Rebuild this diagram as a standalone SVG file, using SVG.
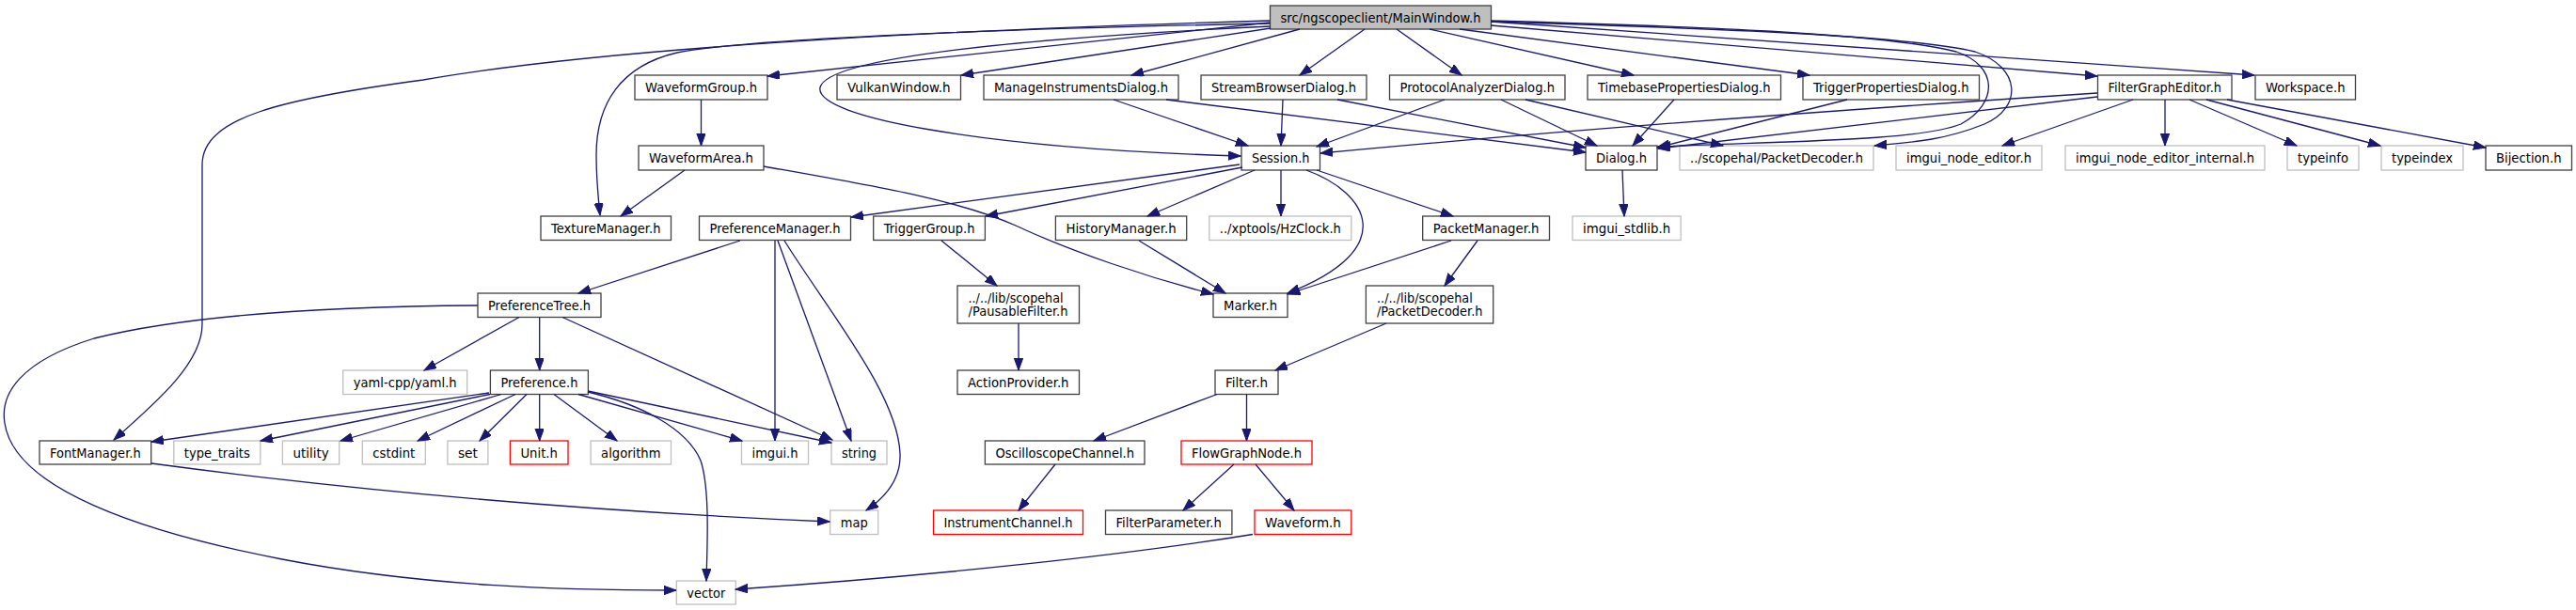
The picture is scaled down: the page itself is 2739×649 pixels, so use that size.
<svg xmlns="http://www.w3.org/2000/svg" width="2739" height="649" viewBox="0 0 2739 649">
<style>
.b{fill:#fff;stroke:#404040;stroke-width:1.3}
.g{fill:#fff;stroke:#bfbfbf;stroke-width:1.3}
.r{fill:#fff;stroke:#ff0000;stroke-width:1.3}
.m{fill:#bfbfbf;stroke:#404040;stroke-width:1.3}
text{font-family:"DejaVu Sans",sans-serif;font-size:13.33px;fill:#000;text-anchor:middle}
text.l{text-anchor:start}
#edges path{fill:none;stroke:#191970;stroke-width:1.3;marker-end:url(#a)}
</style>
<defs>
<marker id="a" markerUnits="userSpaceOnUse" markerWidth="14" markerHeight="10" refX="13" refY="4.7" orient="auto" viewBox="0 0 14 10"><path d="M0,0 L13,4.7 L0,9.4 z" fill="#191970" stroke="#191970" stroke-width="1"/></marker>
</defs>
<rect width="2739" height="649" fill="#fff"/>
<g id="nodes">
<g id="n0"><rect class="m" x="1350.5" y="6" width="235" height="25"/><text x="1468" y="23.5" textLength="213" lengthAdjust="spacingAndGlyphs">src/ngscopeclient/MainWindow.h</text></g>
<g id="n1"><rect class="b" x="675" y="80" width="141" height="26"/><text x="745.5" y="97.5" textLength="119" lengthAdjust="spacingAndGlyphs">WaveformGroup.h</text></g>
<g id="n2"><rect class="b" x="890" y="80" width="131.5" height="26"/><text x="955.75" y="97.5" textLength="109.5" lengthAdjust="spacingAndGlyphs">VulkanWindow.h</text></g>
<g id="n3"><rect class="b" x="1046" y="80" width="207" height="26"/><text x="1149.5" y="97.5" textLength="185" lengthAdjust="spacingAndGlyphs">ManageInstrumentsDialog.h</text></g>
<g id="n4"><rect class="b" x="1277" y="80" width="176" height="26"/><text x="1365" y="97.5" textLength="154" lengthAdjust="spacingAndGlyphs">StreamBrowserDialog.h</text></g>
<g id="n5"><rect class="b" x="1477.5" y="80" width="186.5" height="26"/><text x="1570.75" y="97.5" textLength="164.5" lengthAdjust="spacingAndGlyphs">ProtocolAnalyzerDialog.h</text></g>
<g id="n6"><rect class="b" x="1688" y="80" width="205.5" height="26"/><text x="1790.75" y="97.5" textLength="183.5" lengthAdjust="spacingAndGlyphs">TimebasePropertiesDialog.h</text></g>
<g id="n7"><rect class="b" x="1917" y="80" width="187.5" height="26"/><text x="2010.75" y="97.5" textLength="165.5" lengthAdjust="spacingAndGlyphs">TriggerPropertiesDialog.h</text></g>
<g id="n8"><rect class="b" x="2230.5" y="80" width="142.5" height="26"/><text x="2301.75" y="97.5" textLength="120.5" lengthAdjust="spacingAndGlyphs">FilterGraphEditor.h</text></g>
<g id="n9"><rect class="b" x="2398" y="80" width="106.5" height="26"/><text x="2451.25" y="97.5" textLength="84.5" lengthAdjust="spacingAndGlyphs">Workspace.h</text></g>
<g id="n10"><rect class="b" x="679" y="155" width="133" height="26"/><text x="745.5" y="172.5" textLength="111" lengthAdjust="spacingAndGlyphs">WaveformArea.h</text></g>
<g id="n11"><rect class="b" x="1320" y="155" width="83.5" height="26"/><text x="1361.75" y="172.5" textLength="61.5" lengthAdjust="spacingAndGlyphs">Session.h</text></g>
<g id="n12"><rect class="b" x="1686" y="155" width="76" height="26"/><text x="1724" y="172.5" textLength="54" lengthAdjust="spacingAndGlyphs">Dialog.h</text></g>
<g id="n13"><rect class="g" x="1786" y="155" width="206" height="26"/><text x="1889" y="172.5" textLength="184" lengthAdjust="spacingAndGlyphs">../scopehal/PacketDecoder.h</text></g>
<g id="n14"><rect class="g" x="2016" y="155" width="155" height="26"/><text x="2093.5" y="172.5" textLength="133" lengthAdjust="spacingAndGlyphs">imgui_node_editor.h</text></g>
<g id="n15"><rect class="g" x="2196" y="155" width="212" height="26"/><text x="2302" y="172.5" textLength="190" lengthAdjust="spacingAndGlyphs">imgui_node_editor_internal.h</text></g>
<g id="n16"><rect class="g" x="2432" y="155" width="76" height="26"/><text x="2470" y="172.5" textLength="54" lengthAdjust="spacingAndGlyphs">typeinfo</text></g>
<g id="n17"><rect class="g" x="2532" y="155" width="87" height="26"/><text x="2575.5" y="172.5" textLength="65" lengthAdjust="spacingAndGlyphs">typeindex</text></g>
<g id="n18"><rect class="b" x="2643" y="155" width="91.5" height="26"/><text x="2688.75" y="172.5" textLength="69.5" lengthAdjust="spacingAndGlyphs">Bijection.h</text></g>
<g id="n19"><rect class="b" x="575" y="230" width="138.5" height="25.5"/><text x="644.25" y="247.5" textLength="116.5" lengthAdjust="spacingAndGlyphs">TextureManager.h</text></g>
<g id="n20"><rect class="b" x="743.5" y="230" width="161" height="25.5"/><text x="824" y="247.5" textLength="139" lengthAdjust="spacingAndGlyphs">PreferenceManager.h</text></g>
<g id="n21"><rect class="b" x="928.7" y="230" width="118.7" height="25.5"/><text x="988.05" y="247.5" textLength="96.7" lengthAdjust="spacingAndGlyphs">TriggerGroup.h</text></g>
<g id="n22"><rect class="b" x="1122.4" y="230" width="139.3" height="25.5"/><text x="1192.05" y="247.5" textLength="117.3" lengthAdjust="spacingAndGlyphs">HistoryManager.h</text></g>
<g id="n23"><rect class="g" x="1285.8" y="230" width="151" height="25.5"/><text x="1361.3" y="247.5" textLength="129" lengthAdjust="spacingAndGlyphs">../xptools/HzClock.h</text></g>
<g id="n24"><rect class="b" x="1512.7" y="230" width="134.8" height="25.5"/><text x="1580.1" y="247.5" textLength="112.8" lengthAdjust="spacingAndGlyphs">PacketManager.h</text></g>
<g id="n25"><rect class="g" x="1672" y="230" width="115.2" height="25.5"/><text x="1729.6" y="247.5" textLength="93.2" lengthAdjust="spacingAndGlyphs">imgui_stdlib.h</text></g>
<g id="n26"><rect class="b" x="508" y="312" width="131" height="25.5"/><text x="573.5" y="329.5" textLength="109" lengthAdjust="spacingAndGlyphs">PreferenceTree.h</text></g>
<g id="n27"><rect class="b" x="1018" y="304" width="129.5" height="40"/><text class="l" x="1029.5" y="321.5" textLength="101" lengthAdjust="spacingAndGlyphs">../../lib/scopehal</text><text class="l" x="1029.5" y="335.5" textLength="106" lengthAdjust="spacingAndGlyphs">/PausableFilter.h</text></g>
<g id="n28"><rect class="b" x="1290" y="312" width="79" height="25.5"/><text x="1329.5" y="329.5" textLength="57" lengthAdjust="spacingAndGlyphs">Marker.h</text></g>
<g id="n29"><rect class="b" x="1452.4" y="304" width="135.3" height="40"/><text class="l" x="1464" y="321.5" textLength="101.8" lengthAdjust="spacingAndGlyphs">../../lib/scopehal</text><text class="l" x="1464" y="335.5" textLength="112.5" lengthAdjust="spacingAndGlyphs">/PacketDecoder.h</text></g>
<g id="n30"><rect class="g" x="364.7" y="394" width="132" height="25.5"/><text x="430.7" y="411.5" textLength="110" lengthAdjust="spacingAndGlyphs">yaml-cpp/yaml.h</text></g>
<g id="n31"><rect class="b" x="521.4" y="394" width="104" height="25.5"/><text x="573.4" y="411.5" textLength="82" lengthAdjust="spacingAndGlyphs">Preference.h</text></g>
<g id="n32"><rect class="b" x="1018" y="394" width="129.5" height="25.5"/><text x="1082.75" y="411.5" textLength="107.5" lengthAdjust="spacingAndGlyphs">ActionProvider.h</text></g>
<g id="n33"><rect class="b" x="1292" y="394" width="67" height="25.5"/><text x="1325.5" y="411.5" textLength="45" lengthAdjust="spacingAndGlyphs">Filter.h</text></g>
<g id="n34"><rect class="b" x="42" y="469" width="118.7" height="25"/><text x="101.35" y="486.5" textLength="96.7" lengthAdjust="spacingAndGlyphs">FontManager.h</text></g>
<g id="n35"><rect class="g" x="184.8" y="469" width="92" height="25"/><text x="230.8" y="486.5" textLength="70" lengthAdjust="spacingAndGlyphs">type_traits</text></g>
<g id="n36"><rect class="g" x="300.4" y="469" width="60.3" height="25"/><text x="330.55" y="486.5" textLength="38.3" lengthAdjust="spacingAndGlyphs">utility</text></g>
<g id="n37"><rect class="g" x="385.3" y="469" width="67" height="25"/><text x="418.8" y="486.5" textLength="45" lengthAdjust="spacingAndGlyphs">cstdint</text></g>
<g id="n38"><rect class="g" x="475.9" y="469" width="43" height="25"/><text x="497.4" y="486.5" textLength="21" lengthAdjust="spacingAndGlyphs">set</text></g>
<g id="n39"><rect class="r" x="542.4" y="469" width="61.6" height="25"/><text x="573.2" y="486.5" textLength="39.6" lengthAdjust="spacingAndGlyphs">Unit.h</text></g>
<g id="n40"><rect class="g" x="628.1" y="469" width="85.4" height="25"/><text x="670.8" y="486.5" textLength="63.4" lengthAdjust="spacingAndGlyphs">algorithm</text></g>
<g id="n41"><rect class="g" x="788.5" y="469" width="71" height="25"/><text x="824" y="486.5" textLength="49" lengthAdjust="spacingAndGlyphs">imgui.h</text></g>
<g id="n42"><rect class="g" x="884" y="469" width="59" height="25"/><text x="913.5" y="486.5" textLength="37" lengthAdjust="spacingAndGlyphs">string</text></g>
<g id="n43"><rect class="b" x="1047.4" y="469" width="169.6" height="25"/><text x="1132.2" y="486.5" textLength="147.6" lengthAdjust="spacingAndGlyphs">OscilloscopeChannel.h</text></g>
<g id="n44"><rect class="r" x="1256" y="469" width="139" height="25"/><text x="1325.5" y="486.5" textLength="117" lengthAdjust="spacingAndGlyphs">FlowGraphNode.h</text></g>
<g id="n45"><rect class="g" x="882.7" y="543" width="51" height="25.5"/><text x="908.2" y="560.5" textLength="29" lengthAdjust="spacingAndGlyphs">map</text></g>
<g id="n46"><rect class="r" x="992.5" y="543" width="159" height="25.5"/><text x="1072" y="560.5" textLength="137" lengthAdjust="spacingAndGlyphs">InstrumentChannel.h</text></g>
<g id="n47"><rect class="b" x="1175.5" y="543" width="134.4" height="25.5"/><text x="1242.7" y="560.5" textLength="112.4" lengthAdjust="spacingAndGlyphs">FilterParameter.h</text></g>
<g id="n48"><rect class="r" x="1334" y="543" width="102.8" height="25.5"/><text x="1385.4" y="560.5" textLength="80.8" lengthAdjust="spacingAndGlyphs">Waveform.h</text></g>
<g id="n49"><rect class="g" x="719.3" y="618" width="63" height="25"/><text x="750.8" y="635.5" textLength="41" lengthAdjust="spacingAndGlyphs">vector</text></g>
</g>
<g id="edges">
<path d="M1350,22 C1000,32 650,50 450,85 C300,105 215,125 215,175 L215,345 C215,385 170,425 121,468"/>
<path d="M1350,25 C1100,30 800,40 720,56 C660,70 634,110 634,165 C634,190 636,210 638,229"/>
<path d="M1350,24 L816,81"/>
<path d="M1350,28 C1100,40 880,60 872,93 C865,125 1050,158 1319,166"/>
<path d="M1351,30 L1022,80"/>
<path d="M1382,31 L1203,80"/>
<path d="M1451,31 L1382,80"/>
<path d="M1485,31 L1554,80"/>
<path d="M1520,31 L1737,80"/>
<path d="M1552,31 L1924,80"/>
<path d="M1585,27 L2230,81"/>
<path d="M1585,23 L2397,80"/>
<path d="M1585,22 C1800,28 2000,35 2080,55 C2125,70 2125,110 2085,132 C2040,150 1900,150 1763,156"/>
<path d="M1585,23 C1820,30 2030,38 2100,55 C2150,72 2150,115 2110,132 C2070,148 2040,151 1993,155"/>
<path d="M2230,99 C2000,114 1700,135 1404,163"/>
<path d="M2230,103 L1763,158"/>
<path d="M2268,106 L2129,155"/>
<path d="M2302,106 L2302,155"/>
<path d="M2328,106 L2442,155"/>
<path d="M2346,106 L2531,155"/>
<path d="M2368,106 L2643,157"/>
<path d="M745.5,106 L745.5,155"/>
<path d="M1184,106 L1327,155"/>
<path d="M1240,106 L1686,162"/>
<path d="M1364,106 L1362,155"/>
<path d="M1422,106 L1686,157"/>
<path d="M1536,106 L1400,156"/>
<path d="M1596,106 L1698,155"/>
<path d="M1622,106 L1832,155"/>
<path d="M1780,106 L1736,155"/>
<path d="M1964,106 L1762,157"/>
<path d="M1318,175 L905,231"/>
<path d="M1321,178 L1048,230"/>
<path d="M1334,181 L1220,230"/>
<path d="M1362,181 L1362,230"/>
<path d="M1389,181 C1455,205 1490,265 1369,312"/>
<path d="M1400,181 L1545,230"/>
<path d="M1725,181 L1727,230"/>
<path d="M728,181 L660,230"/>
<path d="M812,177 C930,198 1020,213 1080,240 C1140,268 1220,295 1290,313"/>
<path d="M787,256 L615,312"/>
<path d="M824,256 L824,469"/>
<path d="M827,256 L905,469"/>
<path d="M834,256 C880,330 955,420 957,483 C958,510 940,530 921,543"/>
<path d="M1001,256 L1060,304"/>
<path d="M1211,256 L1303,312"/>
<path d="M1543,256 L1369,313"/>
<path d="M1571,256 L1536,304"/>
<path d="M1083,344 L1083,394"/>
<path d="M1474,344 L1356,394"/>
<path d="M1294,419.5 L1163,469"/>
<path d="M1325.5,419.5 L1325.5,469"/>
<path d="M1122,494 L1083,543"/>
<path d="M1312,494 L1258,543"/>
<path d="M1335,494 L1376,543"/>
<path d="M1332,568.5 C1200,590 1000,612 782,627"/>
<path d="M508,325 C350,326 200,335 100,360 C20,385 0,420 5,450 C15,520 150,566 300,595 C450,624 600,628 719,628"/>
<path d="M552,337.5 L451,394"/>
<path d="M573.7,337.5 L573.7,394"/>
<path d="M598,337.5 L885,468"/>
<path d="M520,418 L161,470"/>
<path d="M521,419.5 L277,469"/>
<path d="M533,419.5 L362,469"/>
<path d="M548,419.5 L444,469"/>
<path d="M560,419.5 L510,469"/>
<path d="M573.7,419.5 L573.7,469"/>
<path d="M589,419.5 L656,469"/>
<path d="M615,419.5 L789,469"/>
<path d="M625,416 L884,471"/>
<path d="M625,417 C680,430 730,455 745,490 C755,520 752,580 751,618"/>
<path d="M161,493 C400,525 650,545 882,555"/>
</g>
</svg>
